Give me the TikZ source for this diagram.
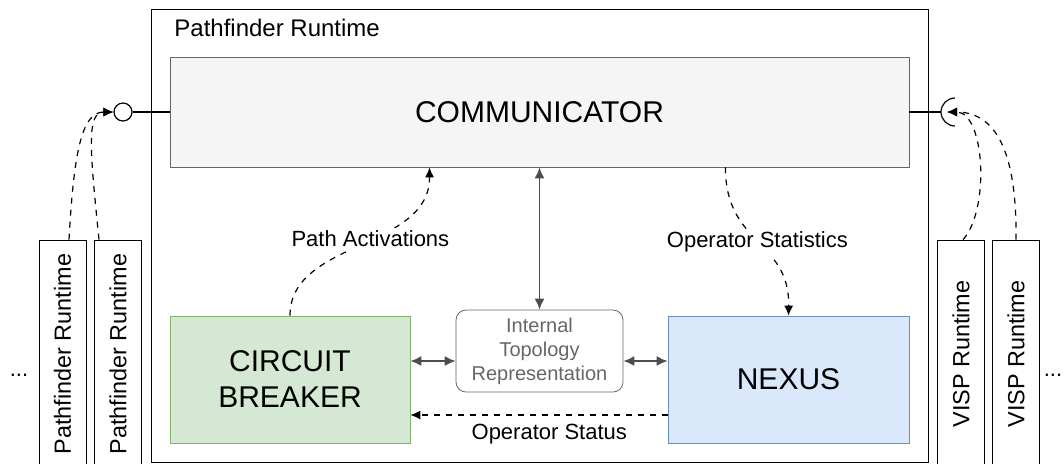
\documentclass[tikz,border=0pt]{standalone}
\usepackage{fontspec}
\setmainfont{Liberation Sans}
\usetikzlibrary{arrows.meta}
\definecolor{commfill}{HTML}{F5F5F5}
\definecolor{commdraw}{HTML}{666666}
\definecolor{cbfill}{HTML}{D5E8D4}
\definecolor{cbdraw}{HTML}{82B366}
\definecolor{nxfill}{HTML}{DAE8FC}
\definecolor{nxdraw}{HTML}{6C8EBF}
\definecolor{linkgray}{HTML}{4D4D4D}
\begin{document}
\begin{tikzpicture}[x=0.5pt,y=-0.5pt]
    \tikzstyle{block}=[draw,rectangle,inner sep=0pt,align=center]
    \tikzstyle{bigtext}=[font=\fontsize{15}{18}\selectfont]
    \tikzstyle{smalltext}=[font=\fontsize{11}{13}\selectfont]
    \tikzstyle{runbox}=[block,rotate=90,minimum width=114pt,minimum height=23.5pt,font=\fontsize{11.7}{14}\selectfont]
    \tikzstyle{biarrow}=[linkgray,line width=0.8pt,{Latex[length=5.5pt,width=5pt]}-{Latex[length=5.5pt,width=5pt]}]
    \tikzstyle{flow}=[dashed,line width=0.6pt,-{Latex[length=5pt,width=4.5pt]}]
    \useasboundingbox (0,0) rectangle (1064,463);
    % runtime frame
    \node[block,minimum width=388.5pt,minimum height=226.5pt] (runtime) at (539.5,235.5) {};
    \node[anchor=base west,inner sep=0pt,font=\fontsize{12}{14}\selectfont] (title) at (174,36) {Pathfinder Runtime};
    % components
    \node[block,fill=commfill,draw=commdraw,minimum width=369.5pt,minimum height=55pt,bigtext] (comm) at (539.5,112) {COMMUNICATOR};
    \node[block,fill=cbfill,draw=cbdraw,minimum width=120pt,minimum height=63.5pt,bigtext] (cb) at (290,379.5) {CIRCUIT\\BREAKER};
    \node[block,fill=nxfill,draw=nxdraw,minimum width=120.5pt,minimum height=63.5pt,bigtext] (nexus) at (788.5,379.5) {NEXUS};
    \node[block,draw=commdraw,text=commdraw,rounded corners=5pt,minimum width=83.5pt,minimum height=41pt,
          font=\fontsize{10}{12}\selectfont] (topo) at (539.5,351) {Internal\\Topology\\Representation};
    % links inside
    \draw[biarrow] (comm.south) -- (topo.north);
    \draw[biarrow] ([yshift=9.25pt]cb.east) -- ([yshift=-5pt]topo.west);
    \draw[biarrow] ([yshift=-5pt]topo.east) -- ([yshift=9.25pt]nexus.west);
    \draw[flow] ([yshift=-17.75pt]nexus.west) -- ([yshift=-17.75pt]cb.east)
        node[pos=0.46,below=1pt,smalltext] (status) {Operator Status};
    \draw[flow] (cb.north) .. controls (290,240) and (430,250) .. ([xshift=-55pt]comm.south)
        node[pos=0.55,fill=white,inner sep=1.5pt,smalltext] (activ) {Path Activations};
    \draw[flow] ([xshift=93pt]comm.south) .. controls (725,245) and (790,240) .. (nexus.north)
        node[pos=0.5,fill=white,inner sep=1.5pt,smalltext] (stats) {Operator Statistics};
    % provided interface
    \node[draw,circle,fill=white,minimum size=9pt,inner sep=0pt,line width=0.6pt] (lolly) at (123,112) {};
    \draw[line width=0.6pt] (lolly.east) -- (comm.west);
    % required interface
    \coordinate (sock) at (941,112);
    \draw[line width=0.6pt] (comm.east) -- (sock);
    \draw[line width=0.6pt] (955,98) arc[start angle=90,end angle=270,radius=7pt];
    % neighbours
    \node[runbox] (pf1) at (62.5,354) {Pathfinder Runtime};
    \node[runbox] (pf2) at (118,354) {Pathfinder Runtime};
    \node[runbox] (visp1) at (961,354) {VISP Runtime};
    \node[runbox] (visp2) at (1016,354) {VISP Runtime};
    \node[smalltext] (ldots) at (19,375) {...};
    \node[smalltext] (rdots) at (1053,375) {...};
    \draw[flow] ([xshift=3.25pt]pf1.east) .. controls (74,150) and (82,112) .. (lolly.west);
    \draw[flow] ([xshift=-9.5pt]pf2.east) .. controls (90,150) and (86,112) .. (lolly.west);
    \draw[flow] ([xshift=1pt]visp1.east) .. controls (990,210) and (985,112) .. (947,112);
    \draw[flow] (visp2.east) .. controls (1017,150) and (995,112) .. (947,112);
\end{tikzpicture}
\end{document}
